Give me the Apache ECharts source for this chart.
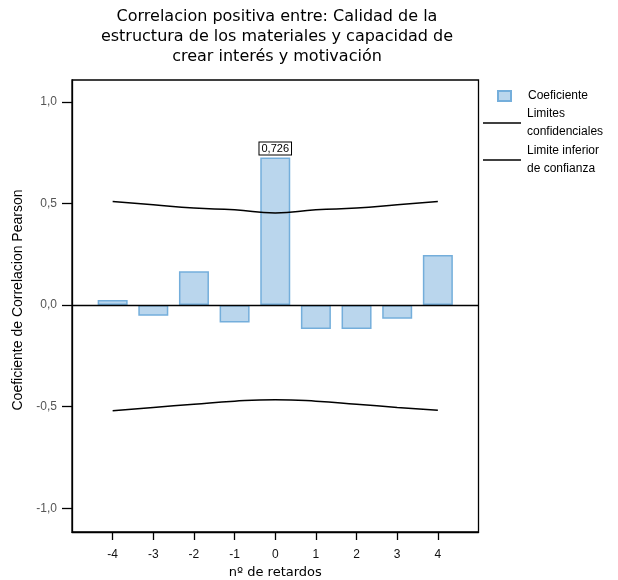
<!DOCTYPE html>
<html>
<head>
<meta charset="utf-8">
<script src="https://cdn.jsdelivr.net/npm/echarts@6/dist/echarts.min.js"></script>
<style>
  html, body { margin: 0; padding: 0; background: #fff; }
  #chart { width: 618px; height: 580px; }
</style>
</head>
<body>
<div id="chart"></div>
<script>
// ---- data ----
const lags = [-4, -3, -2, -1, 0, 1, 2, 3, 4];
const coef = [0.025, -0.053, 0.166, -0.086, 0.726, -0.118, -0.118, -0.067, 0.246];
const upperLimit = [0.510, 0.494, 0.478, 0.469, 0.453, 0.469, 0.478, 0.494, 0.510];
const lowerLimit = [-0.520, -0.504, -0.488, -0.473, -0.466, -0.473, -0.488, -0.504, -0.518];
const yTicks = [-1, -0.5, 0, 0.5, 1];
const seriesNames = ['Coeficiente', 'Limites confidenciales', 'Limite inferior de confianza'];
const legendLabels = ['Coeficiente', 'Limites\nconfidenciales', 'Limite inferior\nde confianza'];
const titleText = 'Correlacion positiva entre: Calidad de la\nestructura de los materiales y capacidad de\ncrear interés y motivación';
const xName = 'nº de retardos';
const yName = 'Coeficiente de Correlacion Pearson';
const labelIndex = 4;

const fmt = (v, d) => v.toFixed(d).replace('.', ',');

const chart = echarts.init(document.getElementById('chart'), null, { renderer: 'canvas' });

const barData = lags.map((x, i) => {
  const item = { value: [x, coef[i]] };
  if (i === labelIndex) {
    item.label = {
      show: true, position: 'top', distance: 3,
      formatter: fmt(coef[i], 3),
      fontFamily: 'Liberation Sans', fontSize: 11, color: '#000',
      backgroundColor: '#fff', borderColor: '#000', borderWidth: 1,
      padding: [1, 2, 0, 2]
    };
  }
  return item;
});

const option = {
  animation: false,
  backgroundColor: '#fff',
  graphic: [{
    type: 'text', x: 277, y: 7,
    style: {
      text: titleText, align: 'center', textAlign: 'center', verticalAlign: 'top',
      font: '16px "DejaVu Sans"', fontFamily: 'DejaVu Sans', fontSize: 16,
      lineHeight: 20, fill: '#000'
    }
  }],
  grid: {
    left: 72, right: 139.5, top: 80, bottom: 48,
    containLabel: false, outerBoundsMode: 'none',
    show: true, borderColor: '#000', borderWidth: 1.3, backgroundColor: 'transparent'
  },
  legend: [{
    data: [seriesNames[0]],
    left: 497, top: 90, padding: 0, orient: 'vertical',
    icon: 'rect', itemWidth: 13, itemHeight: 10,
    selectedMode: false,
    formatter: () => legendLabels[0],
    textStyle: { fontFamily: 'Liberation Sans', fontSize: 12, color: '#000', padding: [0, 0, 0, 12] }
  }, {
    data: [seriesNames[1], seriesNames[2]],
    left: 483, top: 105, padding: 0, orient: 'vertical',
    icon: 'rect', itemWidth: 38, itemHeight: 1.6, itemGap: 1,
    selectedMode: false,
    formatter: (n) => legendLabels[seriesNames.indexOf(n)],
    textStyle: { fontFamily: 'Liberation Sans', fontSize: 12, lineHeight: 18, color: '#000', padding: [0, 0, 0, 1] }
  }],
  xAxis: {
    type: 'value', min: -5, max: 5,
    axisLine: { show: true, onZero: false, lineStyle: { color: '#000', width: 1.3 } },
    axisTick: { show: true, customValues: lags, length: 8, lineStyle: { color: '#000', width: 1.3 } },
    axisLabel: {
      customValues: lags, margin: 17,
      fontFamily: 'Liberation Sans', fontSize: 12, color: '#111',
      formatter: (v) => String(v)
    },
    splitLine: { show: false },
    name: xName, nameLocation: 'middle', nameGap: 34,
    nameTextStyle: { fontFamily: 'DejaVu Sans', fontSize: 13, color: '#000' }
  },
  yAxis: {
    type: 'value', min: -1.117, max: 1.108,
    axisLine: { show: true, onZero: false, lineStyle: { color: '#000', width: 1.3 } },
    axisTick: { show: true, customValues: yTicks, length: 10, lineStyle: { color: '#000', width: 1.3 } },
    axisLabel: {
      customValues: yTicks, margin: 15,
      fontFamily: 'Liberation Sans', fontSize: 12, color: '#555',
      formatter: (v) => fmt(v, 1)
    },
    splitLine: { show: false },
    name: yName, nameLocation: 'middle', nameGap: 42,
    nameTextStyle: { fontFamily: 'Liberation Sans', fontSize: 14, color: '#000', padding: [0, 0, 0, 12] }
  },
  series: [{
    name: seriesNames[0],
    type: 'bar',
    barWidth: 30,
    data: barData,
    itemStyle: { color: '#bad6ed', borderColor: '#74aedb', borderWidth: 1.5 },
    markLine: {
      symbol: 'none', silent: true, label: { show: false },
      lineStyle: { color: '#000', width: 1.3, type: 'solid' },
      data: [{ yAxis: 0 }]
    }
  }, {
    name: seriesNames[1],
    type: 'line',
    color: '#000',
    smooth: true,
    showSymbol: false,
    data: lags.map((x, i) => [x, upperLimit[i]]),
    lineStyle: { color: '#000', width: 1.5 }
  }, {
    name: seriesNames[2],
    type: 'line',
    color: '#000',
    smooth: true,
    showSymbol: false,
    data: lags.map((x, i) => [x, lowerLimit[i]]),
    lineStyle: { color: '#000', width: 1.5 }
  }]
};

chart.setOption(option);
</script>
</body>
</html>
